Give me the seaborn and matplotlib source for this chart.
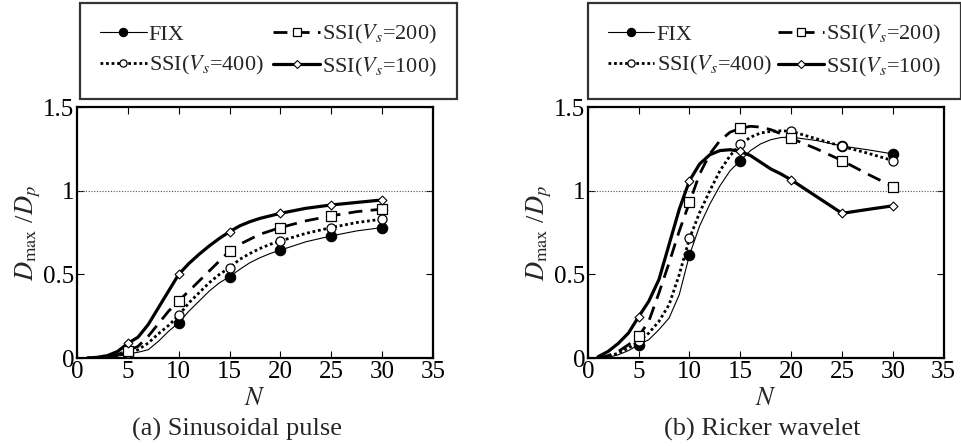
import numpy as np
import pandas as pd
import matplotlib
matplotlib.use("Agg")
import matplotlib.pyplot as plt
from matplotlib.lines import Line2D
import seaborn as sns

sns.set_theme(style="white")
plt.rcParams['font.family'] = ['Liberation Serif', 'DejaVu Serif']
plt.rcParams['mathtext.fontset'] = 'stix'

# ---- data ----
N = [1, 2, 3, 4, 5, 6, 7, 8, 9, 10, 11, 12, 13, 14, 15, 16, 17, 18, 19, 20, 22.5, 25, 27.5, 30]

# (a) Sinusoidal pulse
sin_fix    = [0, 0.002, 0.006, 0.012, 0.025, 0.035, 0.05, 0.10, 0.16, 0.211, 0.28, 0.34, 0.40, 0.45,
              0.486, 0.53, 0.57, 0.60, 0.625, 0.645, 0.695, 0.73, 0.76, 0.78]
sin_ssi400 = [0, 0.002, 0.008, 0.016, 0.03, 0.05, 0.09, 0.145, 0.195, 0.255, 0.33, 0.39, 0.45, 0.50,
              0.54, 0.59, 0.625, 0.655, 0.68, 0.70, 0.745, 0.78, 0.81, 0.83]
sin_ssi200 = [0, 0.003, 0.01, 0.022, 0.045, 0.07, 0.13, 0.205, 0.28, 0.343, 0.40, 0.46, 0.52, 0.58,
              0.64, 0.68, 0.71, 0.74, 0.76, 0.78, 0.82, 0.85, 0.875, 0.89]
sin_ssi100 = [0, 0.005, 0.015, 0.04, 0.088, 0.125, 0.20, 0.30, 0.40, 0.50, 0.565, 0.62, 0.67, 0.715,
              0.755, 0.79, 0.815, 0.835, 0.85, 0.865, 0.895, 0.915, 0.93, 0.945]

# (b) Ricker wavelet
ric_fix    = [0, 0.005, 0.02, 0.045, 0.08, 0.11, 0.17, 0.24, 0.38, 0.616, 0.79, 0.92, 1.03, 1.12,
              1.18, 1.24, 1.28, 1.305, 1.318, 1.32, 1.30, 1.267, 1.245, 1.22]
ric_ssi400 = [0, 0.01, 0.03, 0.06, 0.10, 0.15, 0.22, 0.32, 0.50, 0.715, 0.87, 1.00, 1.12, 1.21,
              1.277, 1.32, 1.345, 1.355, 1.358, 1.355, 1.31, 1.265, 1.225, 1.18]
ric_ssi200 = [0, 0.015, 0.04, 0.08, 0.13, 0.22, 0.39, 0.57, 0.76, 0.93, 1.10, 1.22, 1.30, 1.35,
              1.373, 1.385, 1.38, 1.365, 1.34, 1.313, 1.25, 1.18, 1.10, 1.025]
ric_ssi100 = [0.008, 0.04, 0.088, 0.15, 0.247, 0.34, 0.47, 0.68, 0.89, 1.06, 1.16, 1.215, 1.24, 1.245,
              1.235, 1.21, 1.17, 1.13, 1.10, 1.065, 0.965, 0.865, 0.888, 0.91]

labels = ["FIX", "SSI($V_s$=400)", "SSI($V_s$=200)", "SSI($V_s$=100)"]
marked_N = [5, 10, 15, 20, 25, 30]
x_ticks = [0, 5, 10, 15, 20, 25, 30, 35]
y_ticks = [0, 0.5, 1, 1.5]
y_ticklabels = ["0", "0.5", "1", "1.5"]
panels = ["(a) Sinusoidal pulse", "(b) Ricker wavelet"]

styles = [
    dict(lw=0.8, ls="-", marker="o", ms=7.5, mfc="black", mec="black", mew=0.8),
    dict(lw=2.0, ls=(0, (1.0, 1.0)), marker="o", ms=6.5, mfc="white", mec="black", mew=0.9),
    dict(lw=2.0, ls=(0, (5.0, 3.0)), marker="s", ms=7.5, mfc="white", mec="black", mew=0.9),
    dict(lw=2.3, ls="-", marker="D", ms=4.5, mfc="white", mec="black", mew=0.8),
]

FS_TICK = 18
FS_LAB = 19
FS_LEG = 16

fig = plt.figure(figsize=(9.62, 4.46), dpi=100)
ax_pos = [[0.080, 0.197, 0.370, 0.563], [0.611, 0.197, 0.370, 0.563]]
leg_pos = [(0.083, 0.993, 0.392), (0.611, 0.993, 0.388)]
sub_x = [0.246, 0.792]
datasets = [[sin_fix, sin_ssi400, sin_ssi200, sin_ssi100],
            [ric_fix, ric_ssi400, ric_ssi200, ric_ssi100]]

for p in range(2):
    ax = fig.add_axes(ax_pos[p])
    ax.axhline(1.0, color="#555555", lw=0.8, ls=(0, (1, 1.5)), zorder=1)
    for s, (vals, lab, st) in enumerate(zip(datasets[p], labels, styles)):
        df = pd.DataFrame({"N": N, "D": vals})
        sns.lineplot(data=df, x="N", y="D", ax=ax, color="black",
                     linewidth=st["lw"], linestyle=st["ls"], zorder=3,
                     errorbar=None, estimator=None, sort=True)
        dm = df[df["N"].isin(marked_N)]
        sns.scatterplot(data=dm, x="N", y="D", ax=ax, marker=st["marker"],
                        s=st["ms"] ** 2, facecolor=st["mfc"], edgecolor=st["mec"],
                        linewidth=st["mew"], zorder=4)
    ax.set_xlim(0, 35)
    ax.set_ylim(0, 1.5)
    ax.set_xticks(x_ticks)
    ax.set_xticklabels([str(t) for t in x_ticks], fontsize=FS_TICK)
    ax.set_yticks(y_ticks)
    ax.set_yticklabels(y_ticklabels, fontsize=FS_TICK)
    ax.tick_params(direction="in", length=5, width=0.8, top=True, right=True,
                   bottom=True, left=True, pad=2, colors="black")
    for sp in ax.spines.values():
        sp.set_linewidth(1.6)
        sp.set_color("black")
    ax.set_xlabel("$N$", fontsize=FS_LAB, labelpad=4)
    ax.set_ylabel(r"$D_{\mathrm{max}}$ /$D_p$", fontsize=FS_LAB, labelpad=0)
    fig.text(sub_x[p], 0.038, panels[p], ha="center", va="center", fontsize=FS_LAB)

    handles = [Line2D([0], [0], color="black", linewidth=st["lw"], linestyle=st["ls"],
                      marker=st["marker"], markersize=st["ms"] * 0.8,
                      markerfacecolor=st["mfc"], markeredgecolor=st["mec"],
                      markeredgewidth=st["mew"]) for st in styles]
    x0, y0, w = leg_pos[p]
    leg = fig.legend(handles, labels, loc="upper left", bbox_to_anchor=(x0, y0 - 0.215, w, 0.215),
                     bbox_transform=fig.transFigure, ncol=2, mode="expand",
                     fontsize=FS_LEG, frameon=True, fancybox=False, edgecolor="black",
                     handlelength=2.1, handletextpad=0.1, columnspacing=0.2,
                     borderpad=0.9, labelspacing=0.42, borderaxespad=0)
    leg.get_frame().set_linewidth(1.6)

fig.savefig("out.png", dpi=100)
